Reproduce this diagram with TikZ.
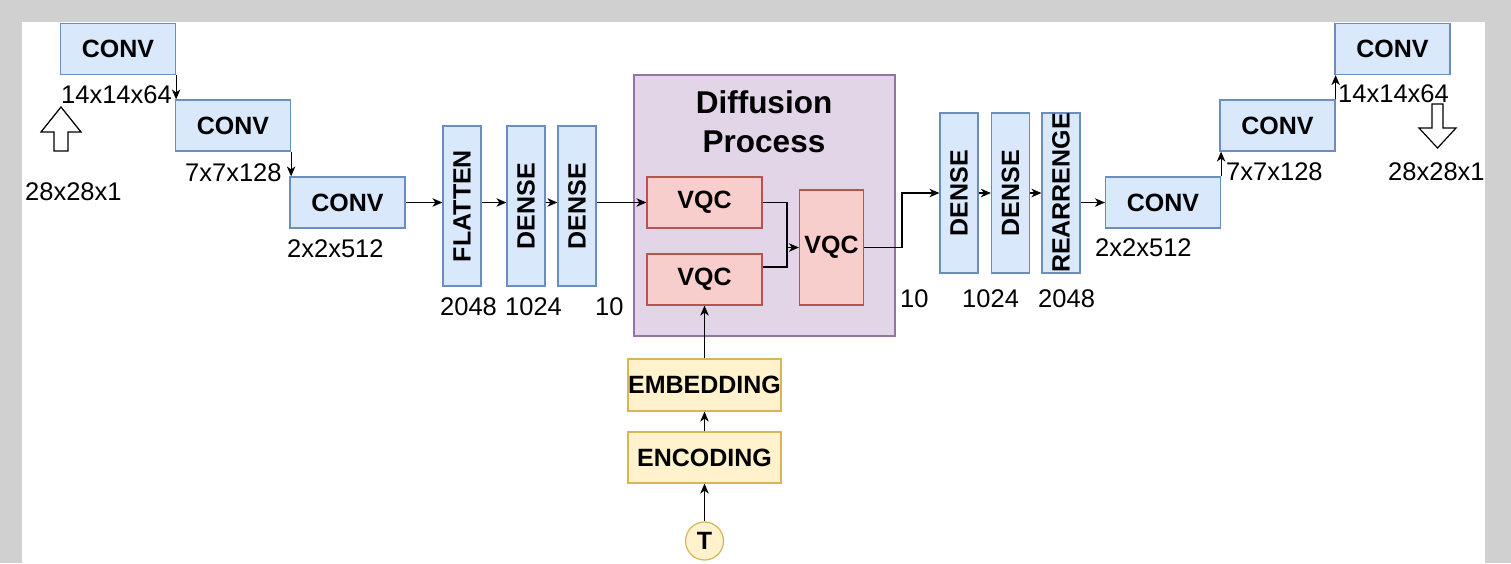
\documentclass[tikz,border=0pt]{standalone}
\usepackage{fontspec}
\usepackage{graphicx}
\setmainfont{Liberation Sans}
\usetikzlibrary{arrows.meta,calc}
\definecolor{pagegray}{RGB}{208,208,208}
\definecolor{blueFill}{HTML}{DAE8FC}
\definecolor{blueLine}{HTML}{6C8EBF}
\definecolor{redFill}{HTML}{F8CECC}
\definecolor{redLine}{HTML}{B85450}
\definecolor{yelFill}{HTML}{FFF2CC}
\definecolor{yelLine}{HTML}{D6B656}
\definecolor{purFill}{HTML}{E1D5E7}
\definecolor{purLine}{HTML}{9673A6}
\begin{document}
\begin{tikzpicture}[x=1pt,y=-1pt,
  box/.style={draw, line width=1.2pt, inner sep=0pt, font=\bfseries\fontsize{25}{30}\selectfont},
  hlayer/.style={box, fill=blueFill, draw=blueLine, minimum width=115pt, minimum height=51pt},
  vlayer/.style={box, fill=blueFill, draw=blueLine, minimum width=38pt, minimum height=160pt},
  vqc/.style={box, fill=redFill, draw=redLine},
  tbox/.style={box, fill=yelFill, draw=yelLine, minimum width=153pt, minimum height=52pt},
  lbl/.style={font=\fontsize{25.5}{30}\selectfont, inner sep=0pt, anchor=base west},
  conn/.style={line width=1.2pt, -{Stealth[length=10pt,width=8.5pt,inset=3pt]}},
  plain/.style={line width=1.2pt},
  blockarrow/.style={draw, line width=1.2pt, fill=white, line join=miter}
]
% page frame
\fill[pagegray] (0,0) rectangle (1511,563);
\fill[white] (22,22) rectangle (1485,563);
\useasboundingbox (0,0) rectangle (1511,563);

% encoder convolutions
\node[hlayer] (c1) at (118,49) {CONV};
\node[hlayer] (c2) at (233,125.5) {CONV};
\node[hlayer] (c3) at (347.5,202.5) {CONV};
\node[lbl] (l1) at (61,103) {14x14x64};
\node[lbl] (l2) at (185,181) {7x7x128};
\node[lbl] (l3) at (287,257) {2x2x512};
\node[lbl] (lin) at (25,200) {28x28x1};
\draw[blockarrow] (61,107) -- (81,132) -- (68,132) -- (68,151) -- (54,151) -- (54,132) -- (41,132) -- cycle;
\draw[conn] (c1.south east) -- (c1.south east |- c2.north);
\draw[conn] (c2.south east) -- (c2.south east |- c3.north);

% encoder dense stack
\node[vlayer] (fl) at (462,206) {\rotatebox{90}{FLATTEN}};
\node[vlayer] (d1) at (526,206) {\rotatebox{90}{DENSE}};
\node[vlayer] (d2) at (577,206) {\rotatebox{90}{DENSE}};
\node[lbl] (l4) at (440,315) {2048};
\node[lbl] (l5) at (505,315) {1024};
\node[lbl] (l6) at (595,315) {10};
\draw[conn] (c3.east) -- (c3.east -| fl.west);
\draw[conn] (c3.east -| fl.east) -- (c3.east -| d1.west);
\draw[conn] (c3.east -| d1.east) -- (c3.east -| d2.west);

% diffusion process
\node[draw=purLine, fill=purFill, line width=1.2pt, minimum width=261pt, minimum height=261pt, inner sep=0pt] (dp) at (764.5,205.5) {};
\node[font=\bfseries\fontsize{31.5}{39}\selectfont, align=center, inner sep=0pt] (dt) at (764,122) {Diffusion\\Process};
\node[vqc, minimum width=115pt, minimum height=51pt] (q1) at (704.5,202.5) {VQC};
\node[vqc, minimum width=115pt, minimum height=51pt] (q2) at (704.5,279.5) {VQC};
\node[vqc, minimum width=64pt, minimum height=115pt] (q3) at (831.5,247.5) {VQC};
\draw[conn] (c3.east -| d2.east) -- (q1.west);
\coordinate (q2out) at ($(q2.east)+(0,-12.5)$);
\coordinate (join) at (787,247.5);
\draw[plain] (q2out) -| (join);
\draw[conn] (q1.east) -| (join) -- (q3.west);

% time conditioning
\node[tbox] (emb) at (704.5,385) {EMBEDDING};
\node[tbox, minimum height=51pt] (enc) at (704.5,457.5) {ENCODING};
\node[box, circle, fill=yelFill, draw=yelLine, minimum size=38pt] (t) at (704.5,541) {T};
\draw[conn] (t.north) -- (enc.south);
\draw[conn] (enc.north) -- (emb.south);
\draw[conn] (emb.north) -- (q2.south);

% decoder dense stack
\node[vlayer] (d3) at (959,193) {\rotatebox{90}{DENSE}};
\node[vlayer] (d4) at (1010.5,193) {\rotatebox{90}{DENSE}};
\node[vlayer] (re) at (1061,193) {\rotatebox{90}{REARRENGE}};
\node[lbl] (l7) at (900,307) {10};
\node[lbl] (l8) at (962,307) {1024};
\node[lbl] (l9) at (1038,307) {2048};
\draw[conn] (q3.east) -- (902,247.5) |- (d3.west);
\draw[conn] (d3.east) -- (d4.west);
\draw[conn] (d4.east) -- (re.west);

% decoder convolutions
\node[hlayer] (c4) at (1163,202.5) {CONV};
\node[hlayer] (c5) at (1277.5,125.5) {CONV};
\node[hlayer] (c6) at (1392.5,49) {CONV};
\node[lbl] (l10) at (1095,256) {2x2x512};
\node[lbl] (l11) at (1226,180) {7x7x128};
\node[lbl] (l12) at (1338,102) {14x14x64};
\node[lbl] (lout) at (1388,180) {28x28x1};
\draw[conn] (c4.west -| re.east) -- (c4.west);
\draw[conn] (c4.north east) -- (c4.north east |- c5.south);
\draw[conn] (c5.north east) -- (c5.north east |- c6.south);
\draw[blockarrow] (1432,104) -- (1443,104) -- (1443,128) -- (1456,128) -- (1437.5,148) -- (1419,128) -- (1432,128) -- cycle;
\end{tikzpicture}
\end{document}
